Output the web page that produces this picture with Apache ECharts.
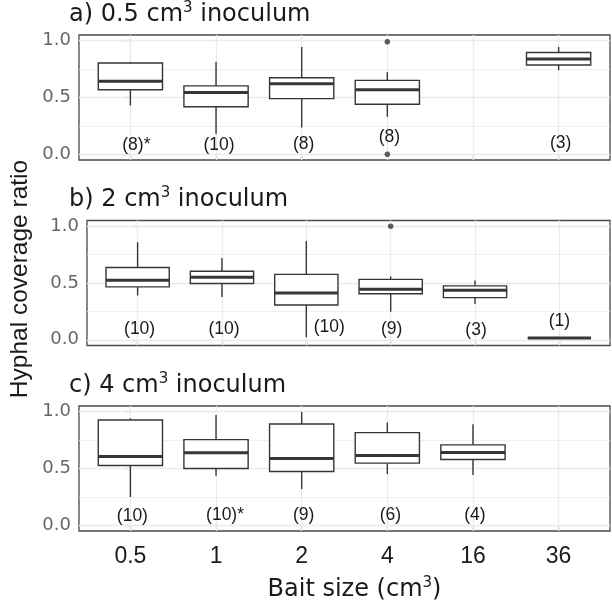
<!DOCTYPE html>
<html>
<head>
<meta charset="utf-8">
<script src="https://cdn.jsdelivr.net/npm/echarts@6/dist/echarts.min.js"></script>
<style>
  html, body { margin: 0; padding: 0; background: #fff; }
  #chart { width: 612px; height: 607px; }
</style>
</head>
<body>
<div id="chart"></div>
<script>
// ---------------- DATA ----------------
const categories = ['0.5', '1', '2', '4', '16', '36'];
// panel titles: [before superscript, superscript, after superscript]
const panelTitles = [
  ['a) 0.5 cm', '3', ' inoculum'],
  ['b) 2 cm', '3', ' inoculum'],
  ['c) 4 cm', '3', ' inoculum']
];
const yTickValues = [0, 0.5, 1];
const yMinorValues = [0.25, 0.75];
const xAxisTitle = ['Bait size (cm', '3', ')'];
const yAxisTitle = 'Hyphal coverage ratio';

// each entry: [min, Q1, median, Q3, max] (null = no data)
const boxesA = [
  [0.43, 0.568, 0.642, 0.804, 0.812],
  [0.18, 0.418, 0.545, 0.602, 0.815],
  [0.236, 0.49, 0.62, 0.674, 0.945],
  [0.331, 0.441, 0.568, 0.651, 0.723],
  null,
  [0.74, 0.786, 0.838, 0.896, 0.945]
];
const boxesB = [
  [0.391, 0.466, 0.524, 0.636, 0.859],
  [0.377, 0.495, 0.55, 0.604, 0.72],
  [0.022, 0.307, 0.411, 0.576, 0.87],
  [0.247, 0.405, 0.446, 0.532, 0.558],
  [0.316, 0.371, 0.437, 0.475, 0.521],
  [0.015, 0.015, 0.015, 0.015, 0.015]
];
const boxesC = [
  [0.249, 0.526, 0.605, 0.927, 0.942],
  [0.436, 0.5, 0.638, 0.754, 0.971],
  [0.319, 0.474, 0.588, 0.892, 0.997],
  [0.451, 0.547, 0.614, 0.816, 0.904],
  [0.442, 0.579, 0.64, 0.708, 0.889],
  null
];

// outliers: [category index, value]
const outliersA = [[3, 0.99], [3, 0.0]];
const outliersB = [[3, 1.0]];
const outliersC = [];

// sample-size annotations
const countsA = ['(8)*', '(10)', '(8)', '(8)', null, '(3)'];
const countsB = ['(10)', '(10)', '(10)', '(9)', '(3)', '(1)'];
const countsC = ['(10)', '(10)*', '(9)', '(6)', '(4)', null];
const countYA = [0.08, 0.078, 0.086, 0.153, null, 0.095];
const countYB = [0.094, 0.094, 0.11, 0.094, 0.088, 0.166];
const countYC = [0.079, 0.085, 0.085, 0.085, 0.085, null];

// ---------------- STYLE / LAYOUT ----------------
const FONT = 'Liberation Sans, Arial, Helvetica, sans-serif';
const WIDE_FONT = 'DejaVu Sans, Verdana, sans-serif';
const panelTops = [35, 220.5, 406];
const panelHeight = 125;
const panelLeft = 79;
const panelWidth = 531;
const titleCenters = [14.5, 200, 385.5];
const labelNudge = [
  [6, 3, 2, 2, 0, 2],
  [2, 2, 23, 1, 1, 0],
  [2, 9, 2, 3, 2, 0]
];
const BOX_COLOR = '#363636';
const GRID_COLOR = '#ebebeb';
const supRich = {
  n: { fontFamily: WIDE_FONT, fontSize: 24, lineHeight: 28, color: '#1a1a1a' },
  s: { fontFamily: WIDE_FONT, fontSize: 15, lineHeight: 18, verticalAlign: 'top', color: '#1a1a1a' }
};
function supText(parts) {
  return '{n|' + parts[0] + '}{s|' + parts[1] + '}{n|' + parts[2] + '}';
}

const panels = [
  { boxes: boxesA, outliers: outliersA, counts: countsA, countY: countYA },
  { boxes: boxesB, outliers: outliersB, counts: countsB, countY: countYB },
  { boxes: boxesC, outliers: outliersC, counts: countsC, countY: countYC }
];

const chart = echarts.init(document.getElementById('chart'), null, { renderer: 'canvas' });

const grids = [], xAxes = [], yAxes = [], series = [], titles = [];
const catIdx = categories.map((c, i) => i);

panels.forEach((p, k) => {
  grids.push({
    left: panelLeft, width: panelWidth, top: panelTops[k], height: panelHeight,
    show: true, backgroundColor: '#fff', borderColor: '#4a4a4a', borderWidth: 1.3
  });
  titles.push({
    text: supText(panelTitles[k]), left: 69, top: titleCenters[k] - 14, padding: 0,
    textStyle: { fontFamily: WIDE_FONT, fontSize: 24, fontWeight: 'normal', color: '#1a1a1a', lineHeight: 28, rich: supRich }
  });
  xAxes.push({
    type: 'value', gridIndex: k, min: -0.6, max: 5.6,
    axisLine: { show: false },
    axisTick: { show: true, customValues: catIdx, length: 5, lineStyle: { color: '#4a4a4a', width: 1.2 } },
    axisLabel: {
      show: k === 2, customValues: catIdx, margin: 14,
      formatter: v => categories[Math.round(v)],
      fontFamily: FONT, fontSize: 23, color: '#1a1a1a'
    },
    splitLine: { show: false },
    name: k === 2 ? supText(xAxisTitle) : '',
    nameLocation: 'middle', nameGap: 45,
    nameTextStyle: { fontFamily: WIDE_FONT, fontSize: 24, color: '#1a1a1a', padding: [0, 0, 0, 20], rich: supRich }
  });
  yAxes.push({
    type: 'value', gridIndex: k, min: -0.05, max: 1.05,
    axisLine: { show: false },
    axisTick: { show: true, customValues: yTickValues, length: 5, lineStyle: { color: '#4a4a4a', width: 1.2 } },
    axisLabel: {
      customValues: yTickValues, margin: 8,
      formatter: v => v.toFixed(1),
      fontFamily: WIDE_FONT, fontSize: 18, color: '#666'
    },
    splitLine: { show: false },
    name: k === 1 ? yAxisTitle : '',
    nameLocation: 'middle', nameGap: 54,
    nameTextStyle: { fontFamily: FONT, fontSize: 24.5, color: '#1a1a1a', padding: [0, 0, 0, 8] }
  });

  // gridlines
  const ml = [];
  yTickValues.forEach(v => ml.push({ yAxis: v, lineStyle: { width: 1.3 } }));
  yMinorValues.forEach(v => ml.push({ yAxis: v, lineStyle: { width: 0.8 } }));
  catIdx.forEach(v => ml.push({ xAxis: v, lineStyle: { width: 1.3 } }));
  series.push({
    type: 'line', xAxisIndex: k, yAxisIndex: k, data: [], silent: true,
    markLine: {
      silent: true, symbol: ['none', 'none'], z: 1, animation: false,
      label: { show: false },
      lineStyle: { type: 'solid', color: GRID_COLOR },
      data: ml
    }
  });

  // boxes
  const boxData = [];
  p.boxes.forEach((b, i) => { if (b) boxData.push([i].concat(b)); });
  series.push({
    type: 'custom', xAxisIndex: k, yAxisIndex: k, z: 3,
    encode: { x: 0, y: [1, 2, 3, 4, 5] },
    data: boxData,
    renderItem: function (params, api) {
      const x = api.value(0);
      const halfW = api.size([0.75, 0])[0] / 2;
      const pMin = api.coord([x, api.value(1)]);
      const pQ1 = api.coord([x, api.value(2)]);
      const pMed = api.coord([x, api.value(3)]);
      const pQ3 = api.coord([x, api.value(4)]);
      const pMax = api.coord([x, api.value(5)]);
      const lw = 1.4;
      return {
        type: 'group',
        children: [
          { type: 'line', shape: { x1: pMin[0], y1: pMin[1], x2: pQ1[0], y2: pQ1[1] },
            style: { stroke: BOX_COLOR, lineWidth: lw } },
          { type: 'line', shape: { x1: pQ3[0], y1: pQ3[1], x2: pMax[0], y2: pMax[1] },
            style: { stroke: BOX_COLOR, lineWidth: lw } },
          { type: 'rect', shape: { x: pQ1[0] - halfW, y: pQ3[1], width: 2 * halfW, height: pQ1[1] - pQ3[1] },
            style: { fill: '#fff', stroke: BOX_COLOR, lineWidth: lw } },
          { type: 'line', shape: { x1: pMed[0] - halfW, y1: pMed[1], x2: pMed[0] + halfW, y2: pMed[1] },
            style: { stroke: BOX_COLOR, lineWidth: 3 } }
        ]
      };
    }
  });

  // outliers
  series.push({
    type: 'scatter', xAxisIndex: k, yAxisIndex: k, z: 4,
    symbol: 'circle', symbolSize: 5.5,
    itemStyle: { color: '#333' },
    data: p.outliers
  });

  // counts
  const cData = [];
  p.counts.forEach((t, i) => {
    if (t) cData.push({ value: [i, p.countY[i]], name: t });
  });
  series.push({
    type: 'custom', xAxisIndex: k, yAxisIndex: k, z: 5, silent: true,
    encode: { x: 0, y: 1 },
    data: cData,
    renderItem: function (params, api) {
      const pt = api.coord([api.value(0), api.value(1)]);
      const idx = Math.round(api.value(0));
      return {
        type: 'text',
        x: pt[0] + labelNudge[k][idx], y: pt[1],
        style: {
          text: cData[params.dataIndex].name,
          fontFamily: FONT, fontSize: 17.5, fill: '#1a1a1a',
          align: 'center', verticalAlign: 'middle'
        }
      };
    }
  });
});

chart.setOption({
  animation: false,
  backgroundColor: '#fff',
  title: titles,
  grid: grids,
  xAxis: xAxes,
  yAxis: yAxes,
  series: series
});
</script>
</body>
</html>
